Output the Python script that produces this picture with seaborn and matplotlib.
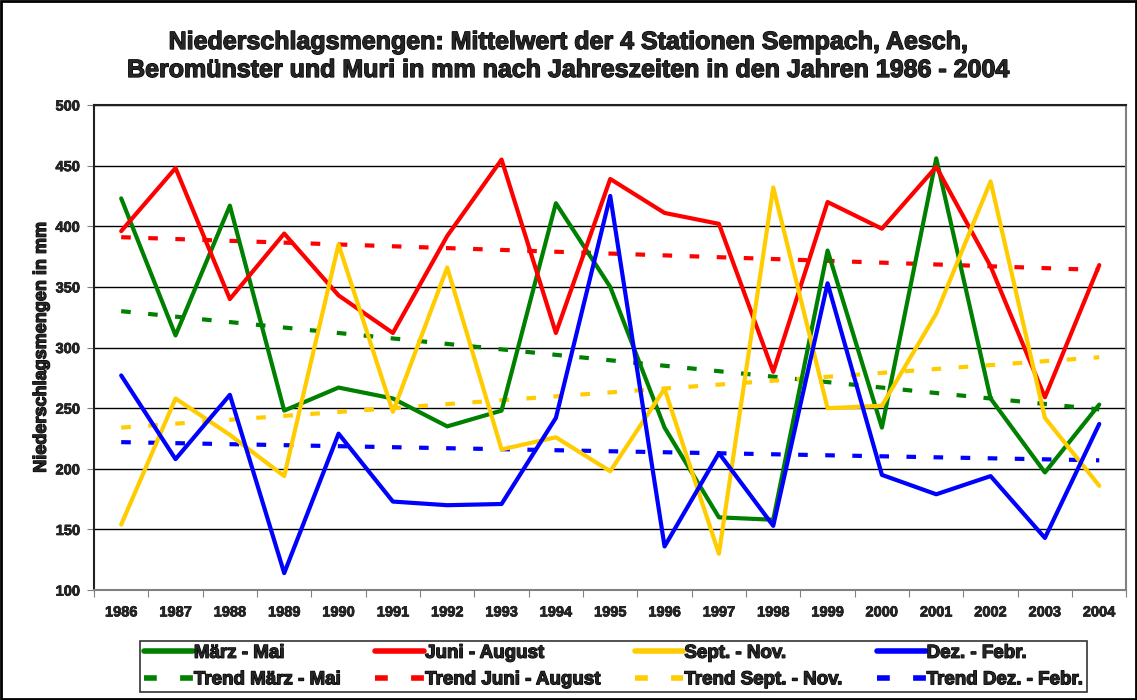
import matplotlib
matplotlib.use('Agg')
import matplotlib.pyplot as plt
import matplotlib.patheffects as pe
from matplotlib import font_manager as fm
from matplotlib.lines import Line2D
from matplotlib.patches import Rectangle
import seaborn as sns
import pandas as pd

years = list(range(1986, 2005))
maerz_mai = [423, 310, 417, 248, 267, 258, 235, 248, 419, 350, 234, 160, 158, 380, 234, 456, 258, 197, 253]
juni_aug = [396, 448, 340, 394, 343, 312, 392, 455, 312, 439, 411, 402, 280, 420, 398, 449, 367, 259, 368]
sept_nov = [154, 258, 228, 194, 385, 247, 366, 216, 226, 198, 266, 130, 432, 250, 252, 328, 437, 242, 186]
dez_febr = [277, 208, 261, 114, 229, 173, 170, 171, 242, 425, 136, 213, 153, 353, 195, 179, 194, 143, 237]

# trend lines read at first and last year
trend_years = [1986, 2004]
trend_maerz_mai = [330, 249]
trend_juni_aug = [391, 364]
trend_sept_nov = [234, 292]
trend_dez_febr = [222, 207]

labels = ['März - Mai', 'Juni - August', 'Sept. - Nov.', 'Dez. - Febr.']
colors = ['#008000', '#FF0000', '#FFCC00', '#0000FF']
series = [maerz_mai, juni_aug, sept_nov, dez_febr]
trends = [trend_maerz_mai, trend_juni_aug, trend_sept_nov, trend_dez_febr]

sns.set_style('white')
plt.rcParams['font.family'] = ['Liberation Sans', 'DejaVu Sans']


def bold(size):
    return fm.FontProperties(family='Liberation Sans', weight='bold', size=size)


# thicken the strokes a bit so the text reads as heavy as the original
heavy = [pe.withStroke(linewidth=0.9, foreground='black')]
dash = (0, (2.3, 4.2))

fig = plt.figure(figsize=(11.37, 7), dpi=100)
ax = fig.add_axes([0.0827, 0.157, 0.908, 0.693])

data = pd.DataFrame({'year': years * 4,
                     'value': sum(series, []),
                     'season': sum([[l] * len(years) for l in labels], [])})
sns.lineplot(data=data, x='year', y='value', hue='season', palette=dict(zip(labels, colors)),
             linewidth=3, ax=ax, legend=False, zorder=3)

for tr, c in zip(trends, colors):
    sns.lineplot(x=trend_years, y=tr, color=c, linewidth=3, ax=ax, legend=False, zorder=2,
                 linestyle=dash)

ax.set_xlim(1985.5, 2004.5)
ax.set_ylim(100, 500)
ax.set_yticks(range(100, 501, 50))
ax.set_yticklabels([str(v) for v in range(100, 501, 50)], fontproperties=bold(10.5))
ax.yaxis.grid(True, color='black', linewidth=1)
ax.set_xticks([y - 0.5 for y in years] + [2004.5])
ax.set_xticklabels([])
ax.set_xticks(years, minor=True)
ax.set_xticklabels([str(y) for y in years], minor=True, fontproperties=bold(10.5))
ax.tick_params(axis='x', which='major', length=5, color='#808080', direction='out', bottom=True)
ax.tick_params(axis='x', which='minor', length=0, pad=11)
ax.tick_params(axis='y', length=5, color='#808080', direction='out', left=True, pad=5)
for t in ax.get_xticklabels(minor=True) + ax.get_yticklabels():
    t.set_path_effects([pe.withStroke(linewidth=0.5, foreground='black')])
for s in ax.spines.values():
    s.set_color('#808080')
    s.set_linewidth(1.5)
ax.spines['left'].set_color('#202020')
ax.spines['top'].set_color('#202020')
ax.set_xlabel('')
ax.set_ylabel('Niederschlagsmengen in mm', fontproperties=bold(13), labelpad=4,
              path_effects=heavy)

fig.text(0.5, 0.94, 'Niederschlagsmengen: Mittelwert der 4 Stationen Sempach, Aesch,',
         ha='center', va='center', fontproperties=bold(18), path_effects=heavy)
fig.text(0.5, 0.9, 'Beromünster und Muri in mm nach Jahreszeiten in den Jahren 1986 - 2004',
         ha='center', va='center', fontproperties=bold(18), path_effects=heavy)

handles = []
for l, c in zip(labels, colors):
    handles.append(Line2D([], [], color=c, linewidth=4, label=l))
    handles.append(Line2D([], [], color=c, linewidth=4, linestyle=(0, (2.3, 4.2)), label='Trend ' + l))
leg = fig.legend(handles=handles, ncol=4, loc='center', bbox_to_anchor=(0.5395, 0.0479),
                 bbox_transform=fig.transFigure, frameon=True, fancybox=False, edgecolor='black',
                 prop=bold(13.5), handlelength=2.6, handletextpad=0.05,
                 columnspacing=1.85, borderpad=0.22, labelspacing=0.5)
leg.get_frame().set_linewidth(1.2)
for t in leg.get_texts():
    t.set_path_effects(heavy)

fig.patches.append(Rectangle((0.001, 0.001), 0.998, 0.998, transform=fig.transFigure,
                             fill=False, edgecolor='black', linewidth=2))

fig.savefig('out.png', dpi=100)
